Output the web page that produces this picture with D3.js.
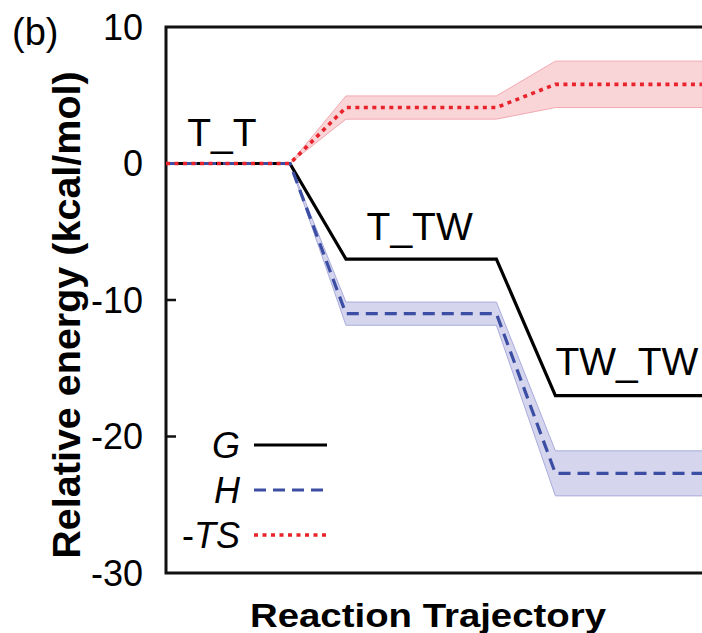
<!DOCTYPE html>
<html lang="en">
<head>
<meta charset="utf-8">
<title>Relative energy</title>
<style>
  body { margin: 0; background: #fff; }
  svg { display: block; font-family: "Liberation Sans", Arial, sans-serif; }
</style>
</head>
<body>
<div id="chart"></div>
<script src="https://cdn.jsdelivr.net/npm/d3@7"></script>
<script>
// reaction coordinate (stage plateaus and transitions)
var stageX = [0, 2.1, 3.05, 5.6, 6.6, 9.3];
var gVals  = [0, 0, -7, -7, -17, -17];
var hVals  = [0, 0, -11, -11, -22.7, -22.7];
var hErr   = [0, 0, 0.85, 0.85, 1.65, 1.65];
var tsVals = [0, 0, 4.1, 4.1, 5.8, 5.8];
var tsErr  = [0, 0, 0.85, 0.85, 1.7, 1.7];

var stateLabels = [
  { name: "T_T",   x: 0.36, y: 1.3 },
  { name: "T_TW",  x: 3.4,  y: -5.6 },
  { name: "TW_TW", x: 6.6,  y: -15.5 }
];
var yTicks = [10, 0, -10, -20, -30];
var legendItems = [
  { name: "G",   color: "#000",    dash: null,   width: 3.2 },
  { name: "H",   color: "#3b4ea3", dash: "12,7", width: 3.2 },
  { name: "-TS", color: "#e8232b", dash: "4,4.5", width: 3.6 }
];

var width = 702, height = 633;
var margin = { left: 166, top: 27, bottom: 60 };

var svg = d3.select("#chart").append("svg")
    .attr("width", width)
    .attr("height", height);

var x = d3.scaleLinear().domain([0, 9.3]).range([margin.left, margin.left + 9.3 * 59]);
var y = d3.scaleLinear().domain([-30, 10]).range([573, margin.top]);

function pts(vals) {
  return stageX.map(function(d, i) { return { x: d, v: vals[i] }; });
}
function band(vals, err) {
  return stageX.map(function(d, i) { return { x: d, lo: vals[i] - err[i], hi: vals[i] + err[i] }; });
}

var line = d3.line().x(function(d) { return x(d.x); }).y(function(d) { return y(d.v); });
var area = d3.area()
    .x(function(d) { return x(d.x); })
    .y0(function(d) { return y(d.lo); })
    .y1(function(d) { return y(d.hi); });

// uncertainty bands
svg.append("path").datum(band(tsVals, tsErr))
    .attr("d", area)
    .attr("fill", "#fad5d8")
    .attr("stroke", "#f2a9b0")
    .attr("stroke-width", 1);
svg.append("path").datum(band(hVals, hErr))
    .attr("d", area)
    .attr("fill", "#d5d5ed")
    .attr("stroke", "#a9acdc")
    .attr("stroke-width", 1);

// frame: left, top, bottom
var x0 = margin.left, x1 = width + 10;
svg.append("path")
    .attr("d", "M" + x1 + "," + y(10) + "H" + x0 + "V" + y(-30) + "H" + x1)
    .attr("fill", "none")
    .attr("stroke", "#111")
    .attr("stroke-width", 3);

// inward ticks
svg.selectAll(".tick").data(yTicks.filter(function(d) { return d > -30 && d < 10; }))
  .enter().append("line")
    .attr("x1", x0).attr("x2", x0 + 10)
    .attr("y1", function(d) { return y(d); })
    .attr("y2", function(d) { return y(d); })
    .attr("stroke", "#111").attr("stroke-width", 2.5);

svg.selectAll(".ylab").data(yTicks)
  .enter().append("text")
    .attr("x", 143)
    .attr("y", function(d) { return y(d); })
    .attr("dy", "0.36em")
    .attr("text-anchor", "end")
    .style("font-size", "36px")
    .text(function(d) { return d; });

// energy curves
svg.append("path").datum(pts(gVals))
    .attr("d", line).attr("fill", "none")
    .attr("stroke", legendItems[0].color).attr("stroke-width", legendItems[0].width);
svg.append("path").datum(pts(hVals))
    .attr("d", line).attr("fill", "none")
    .attr("stroke", legendItems[1].color).attr("stroke-width", legendItems[1].width)
    .attr("stroke-dasharray", legendItems[1].dash);
svg.append("path").datum(pts(tsVals))
    .attr("d", line).attr("fill", "none")
    .attr("stroke", legendItems[2].color).attr("stroke-width", legendItems[2].width)
    .attr("stroke-dasharray", legendItems[2].dash);

// state labels
svg.selectAll(".state").data(stateLabels)
  .enter().append("text")
    .attr("x", function(d) { return x(d.x); })
    .attr("y", function(d) { return y(d.y); })
    .style("font-size", "39px")
    .text(function(d) { return d.name; });

// legend
var leg = svg.selectAll(".leg").data(legendItems)
  .enter().append("g")
    .attr("transform", function(d, i) { return "translate(0," + (445 + i * 45) + ")"; });
leg.append("line")
    .attr("x1", 254).attr("x2", 327)
    .attr("stroke", function(d) { return d.color; })
    .attr("stroke-width", function(d) { return d.width; })
    .attr("stroke-dasharray", function(d) { return d.dash; });
var lt = leg.append("text")
    .attr("x", 240).attr("y", 13)
    .attr("text-anchor", "end")
    .style("font-size", "36px");
lt.each(function(d) {
  var t = d3.select(this);
  if (d.name[0] === "-") {
    t.append("tspan").text("-");
    t.append("tspan").style("font-style", "italic").text(d.name.slice(1));
  } else {
    t.append("tspan").style("font-style", "italic").text(d.name);
  }
});

// axis titles
svg.append("text")
    .attr("transform", "translate(80," + 315 + ") rotate(-90)")
    .attr("text-anchor", "middle")
    .style("font-size", "39.5px")
    .style("font-weight", "bold")
    .text("Relative energy (kcal/mol)");

svg.append("text")
    .attr("x", 428).attr("y", 627)
    .attr("text-anchor", "middle")
    .attr("textLength", 356)
    .attr("lengthAdjust", "spacingAndGlyphs")
    .style("font-size", "34px")
    .style("font-weight", "bold")
    .text("Reaction Trajectory");

svg.append("text")
    .attr("x", 12).attr("y", 45)
    .style("font-size", "38px")
    .text("(b)");
</script>
</body>
</html>
